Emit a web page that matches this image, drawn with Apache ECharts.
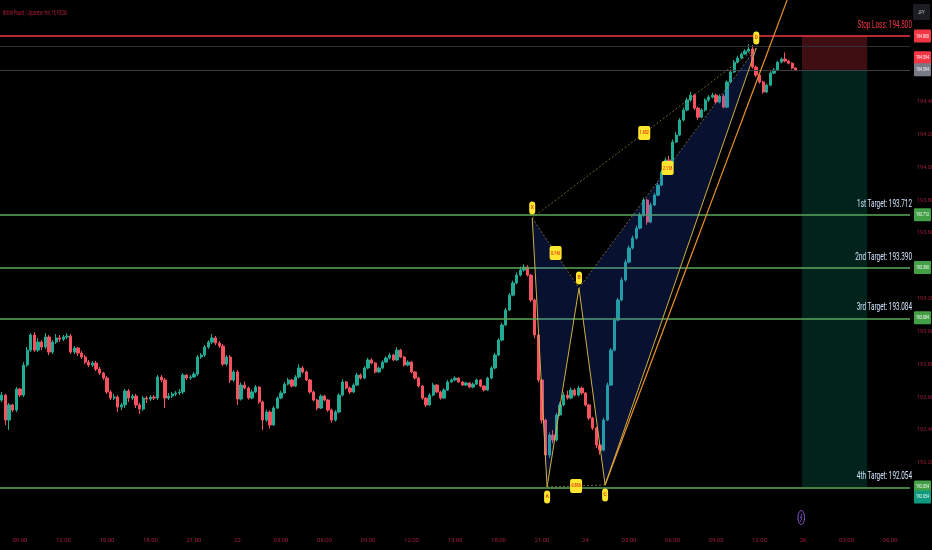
<!DOCTYPE html>
<html><head><meta charset="utf-8">
<script src="https://cdn.jsdelivr.net/npm/echarts@6/dist/echarts.min.js"></script>
<style>html,body{margin:0;padding:0;background:#000;}#c{width:932px;height:550px;}</style>
</head><body><div id="c"></div>
<script>
const chartTitle = 'British Pound / Japanese Yen, 15, FXCM';
const tickLabels = ['09:00','12:00','15:00','18:00','21:00','22','03:00','06:00','09:00','12:00','15:00','18:00','21:00','24','03:00','06:00','09:00','12:00','26','03:00','06:00'];
const firstOpen = 192.583;
const closes = [
192.613,192.461,192.553,192.522,192.650,192.613,192.796,192.887,192.979,192.887,
192.936,192.906,192.967,192.875,192.936,192.961,192.954,192.967,192.973,192.875,
192.900,192.869,192.845,192.814,192.796,192.808,192.772,192.747,192.717,192.632,
192.595,192.601,192.540,192.553,192.638,192.595,192.607,192.553,192.528,192.595,
192.589,192.601,192.595,192.723,192.705,192.595,192.607,192.620,192.626,192.632,
192.735,192.717,192.723,192.741,192.845,192.857,192.906,192.936,192.961,192.930,
192.912,192.802,192.845,192.705,192.754,192.589,192.674,192.656,192.595,192.632,
192.662,192.571,192.461,192.510,192.431,192.534,192.595,192.626,192.680,192.705,
192.668,192.723,192.778,192.754,192.705,192.632,192.583,192.534,192.607,192.583,
192.522,192.461,192.510,192.613,192.693,192.656,192.632,192.674,192.735,192.717,
192.778,192.827,192.808,192.754,192.778,192.814,192.839,192.857,192.827,192.887,
192.845,192.796,192.814,192.754,192.717,192.668,192.595,192.553,192.613,192.674,
192.632,192.595,192.644,192.693,192.705,192.717,192.693,192.674,192.687,192.662,
192.680,192.705,192.668,192.644,192.717,192.778,192.857,192.948,193.040,193.131,
193.222,193.296,193.344,193.375,193.393,193.344,193.192,192.979,192.705,192.461,
192.248,192.370,192.339,192.492,192.553,192.613,192.595,192.644,192.613,192.656,
192.626,192.553,192.473,192.412,192.309,192.278,192.461,192.674,192.887,193.070,
193.192,193.314,193.423,193.509,193.570,193.630,193.710,193.801,193.667,193.771,
193.831,193.892,193.972,194.045,194.026,194.154,194.197,194.288,194.349,194.410,
194.440,194.361,194.306,194.349,194.410,194.428,194.440,194.398,194.434,194.367,
194.520,194.581,194.641,194.666,194.690,194.708,194.721,194.611,194.562,194.520,
194.459,194.501,194.574,194.593,194.641,194.660,194.648,194.635,194.605,194.593];
const highs = [
192.632,192.620,192.565,192.559,192.662,192.656,192.814,192.906,192.991,192.997,
192.961,192.948,192.991,192.979,192.948,192.985,192.979,192.979,192.991,192.985,
192.912,192.906,192.881,192.857,192.827,192.821,192.821,192.784,192.754,192.729,
192.644,192.620,192.613,192.565,192.650,192.650,192.620,192.620,192.565,192.607,
192.607,192.613,192.613,192.735,192.735,192.717,192.626,192.632,192.638,192.650,
192.747,192.741,192.735,192.754,192.857,192.869,192.918,192.948,192.985,192.973,
192.942,192.924,192.857,192.857,192.766,192.766,192.690,192.695,192.665,192.645,
192.675,192.668,192.580,192.525,192.520,192.545,192.605,192.640,192.692,192.718,
192.712,192.735,192.800,192.790,192.762,192.712,192.640,192.590,192.618,192.615,
192.590,192.530,192.522,192.625,192.710,192.700,192.665,192.685,192.748,192.745,
192.790,192.840,192.838,192.815,192.788,192.825,192.850,192.870,192.865,192.905,
192.895,192.852,192.825,192.820,192.760,192.725,192.675,192.600,192.625,192.688,
192.680,192.640,192.655,192.705,192.715,192.728,192.722,192.700,192.695,192.692,
192.690,192.715,192.710,192.672,192.725,192.790,192.870,192.960,193.055,193.145,
193.235,193.310,193.360,193.395,193.410,193.405,193.350,193.200,192.985,192.712,
192.470,192.385,192.400,192.505,192.570,192.630,192.640,192.660,192.655,192.670,
192.665,192.632,192.560,192.480,192.420,192.330,192.475,192.690,192.900,193.085,
193.205,193.330,193.440,193.525,193.585,193.645,193.725,193.815,193.810,193.785,
193.845,193.905,193.985,194.060,194.070,194.170,194.215,194.300,194.365,194.425,
194.460,194.448,194.370,194.360,194.420,194.440,194.455,194.450,194.445,194.445,
194.530,194.595,194.655,194.680,194.700,194.720,194.750,194.745,194.620,194.570,
194.528,194.510,194.585,194.605,194.650,194.670,194.700,194.655,194.640,194.610];
const lows = [
192.571,192.431,192.400,192.510,192.510,192.601,192.601,192.784,192.875,192.875,
192.875,192.887,192.894,192.857,192.863,192.924,192.936,192.942,192.954,192.863,
192.863,192.851,192.833,192.802,192.784,192.784,192.760,192.735,192.705,192.620,
192.583,192.583,192.510,192.522,192.534,192.571,192.583,192.534,192.498,192.516,
192.565,192.577,192.583,192.583,192.693,192.534,192.583,192.595,192.607,192.613,
192.620,192.705,192.705,192.717,192.729,192.833,192.845,192.894,192.924,192.918,
192.900,192.790,192.790,192.687,192.693,192.553,192.580,192.648,192.585,192.588,
192.625,192.560,192.400,192.450,192.410,192.425,192.528,192.588,192.620,192.672,
192.660,192.662,192.715,192.745,192.698,192.622,192.575,192.520,192.528,192.575,
192.512,192.445,192.452,192.502,192.605,192.648,192.620,192.625,192.668,192.708,
192.710,192.770,192.800,192.745,192.748,192.770,192.808,192.830,192.820,192.820,
192.838,192.788,192.788,192.745,192.708,192.660,192.585,192.540,192.548,192.605,
192.625,192.585,192.590,192.638,192.688,192.698,192.688,192.668,192.668,192.655,
192.655,192.675,192.660,192.635,192.638,192.710,192.770,192.850,192.940,193.032,
193.125,193.215,193.288,193.335,193.365,193.335,193.180,192.960,192.690,192.440,
192.205,192.230,192.320,192.330,192.485,192.545,192.585,192.588,192.605,192.605,
192.615,192.545,192.460,192.400,192.290,192.250,192.270,192.455,192.668,192.880,
193.062,193.185,193.305,193.415,193.500,193.560,193.622,193.700,193.650,193.660,
193.765,193.825,193.885,193.965,194.015,194.020,194.148,194.190,194.280,194.340,
194.400,194.350,194.290,194.298,194.340,194.400,194.420,194.390,194.390,194.360,
194.360,194.512,194.575,194.635,194.660,194.685,194.700,194.600,194.550,194.510,
194.450,194.452,194.495,194.568,194.588,194.635,194.640,194.628,194.598,194.588];

const slotCount = 251;
const levelPrices = [194.800, 193.712, 193.390, 193.084, 192.054];
const levelTexts = ['Stop Loss: 194.800', '1st Target: 193.712', '2nd Target: 193.390', '3rd Target: 193.084', '4th Target: 192.054'];
const faintPrices = [194.739, 194.594];
const patternNames = ['X', 'A', 'B', 'C', 'D'];
const patternIdx = [146.3, 150.4, 159.2, 166.4, 208.1];
const patternPrice = [193.692, 192.054, 193.265, 192.066, 194.727];
const ratioTexts = ['0.746', '0.886', '1.652', '2.118'];   // XB, AC, XD, BD
const trendIdx = [166.4, 216.6];
const trendPrice = [192.066, 195.019];
const posIdx = [220.7, 238.7];
const posPrices = [194.800, 194.594, 192.054];   // stop, entry, target
const tagPrices = [194.800, 194.594, 194.594, 193.712, 193.390, 193.084, 192.054, 192.054];
const tagTexts  = ['194.800', '194.594', '194.594', '193.712', '193.390', '193.084', '192.054', '192.054'];
const eventIdx = 220.5;

const slots = [];
for (let k = 0; k < slotCount; k++) slots.push('k' + k);
const candleData = closes.map((c, k) => [k === 0 ? firstOpen : closes[k - 1], c, lows[k], highs[k]]);

const RED = '#f23645', GREEN = '#5aa85a', AXIS = '#a11f3e';
const tagColors = [RED, RED, '#787b86', '#43a047', '#43a047', '#43a047', '#43a047', '#0e9a7e'];
const tagShift = [0, -12, 0, 0, 0, 0, 0, 10];
const levelColors = ['#f23645', '#d4e6ff', '#d4e6ff', '#d4e6ff', '#d4e6ff'];
const TXT = '11px Roboto';

function renderZones(params, api) {
  const a = api.coord([posIdx[0], posPrices[0]]);
  const b = api.coord([posIdx[1], posPrices[1]]);
  const c = api.coord([posIdx[1], posPrices[2]]);
  return { type: 'group', children: [
    { type: 'rect', shape: { x: a[0], y: a[1], width: b[0] - a[0], height: b[1] - a[1] }, style: { fill: 'rgba(242,54,69,0.26)' } },
    { type: 'rect', shape: { x: a[0], y: b[1], width: b[0] - a[0], height: c[1] - b[1] }, style: { fill: 'rgba(8,153,129,0.22)' } }
  ] };
}

function renderPattern(params, api) {
  const P = patternIdx.map((k, i) => api.coord([k, patternPrice[i]]));
  const [X, A, B, C, D] = P;
  const fill = 'rgba(41,98,255,0.19)';
  const gold = '#cfae45';
  const thin = 'rgba(190,165,90,0.75)';
  const ch = [];
  ch.push({ type: 'polygon', shape: { points: [X, A, B] }, style: { fill: fill } });
  ch.push({ type: 'polygon', shape: { points: [B, C, D] }, style: { fill: fill } });
  const t0 = api.coord([trendIdx[0], trendPrice[0]]), t1 = api.coord([trendIdx[1], trendPrice[1]]);
  ch.push({ type: 'line', shape: { x1: t0[0], y1: t0[1], x2: t1[0], y2: t1[1] }, style: { stroke: '#e8912e', lineWidth: 1.2 } });
  [[X, B], [B, D], [X, D], [A, C]].forEach(([p, q]) => ch.push({ type: 'line', shape: { x1: p[0], y1: p[1], x2: q[0], y2: q[1] }, style: { stroke: thin, lineWidth: 0.8, lineDash: [2, 2] } }));
  ch.push({ type: 'polyline', shape: { points: [X, A, B, C, D] }, style: { stroke: gold, lineWidth: 1, fill: 'none' } });
  const mids = [[X, B], [A, C], [X, D], [B, D]];
  mids.forEach(([p, q], i) => {
    const mx = (p[0] + q[0]) / 2, my = (p[1] + q[1]) / 2;
    ch.push({ type: 'rect', shape: { x: mx - 6, y: my - 7, width: 12, height: 14, r: 2 }, style: { fill: '#ffe62e' } });
    ch.push({ type: 'text', x: mx, y: my, scaleX: 0.6, style: { text: ratioTexts[i], fill: '#e2471a', font: 'bold 6px Roboto', align: 'center', verticalAlign: 'middle', textAlign: 'center', textVerticalAlign: 'middle' } });
  });
  const dir = [-1, 1, -1, 1, -1];
  P.forEach((p, i) => {
    const cy = p[1] + dir[i] * 10;
    ch.push({ type: 'rect', shape: { x: p[0] - 3, y: cy - 6.5, width: 6, height: 13, r: 3 }, style: { fill: '#ffe62e' } });
    ch.push({ type: 'text', x: p[0], y: cy, style: { text: patternNames[i], fill: '#d2561b', font: 'bold 5px Roboto', align: 'center', verticalAlign: 'middle', textAlign: 'center', textVerticalAlign: 'middle' } });
  });
  return { type: 'group', children: ch };
}

function renderTexts(params, api) {
  const ch = [];
  levelPrices.forEach((p, i) => {
    const pt = api.coord([slotCount - 0.5, p]);
    ch.push({ type: 'text', x: pt[0] + 2, y: pt[1] - 5, scaleX: 0.58, style: { text: levelTexts[i], fill: levelColors[i], font: TXT, align: 'right', verticalAlign: 'bottom', textAlign: 'right', textVerticalAlign: 'bottom' } });
  });
  tagPrices.forEach((p, i) => {
    const pt = api.coord([slotCount - 0.5, p]);
    const cy = pt[1] + tagShift[i];
    ch.push({ type: 'rect', shape: { x: pt[0] + 4, y: cy - 6.5, width: 17, height: 13, r: 1 }, style: { fill: tagColors[i] } });
    ch.push({ type: 'text', x: pt[0] + 12.5, y: cy, scaleX: 0.6, style: { text: tagTexts[i], fill: '#ffffff', font: '6px Roboto', align: 'center', verticalAlign: 'middle', textAlign: 'center', textVerticalAlign: 'middle' } });
  });
  const ev = api.coord([eventIdx, 191.8]);
  ch.push({ type: 'ellipse', shape: { cx: ev[0], cy: ev[1] - 11, rx: 3.2, ry: 7 }, style: { fill: 'none', stroke: '#8e5bd6', lineWidth: 1 } });
  ch.push({ type: 'polyline', shape: { points: [[ev[0] + 0.8, ev[1] - 15], [ev[0] - 0.8, ev[1] - 11], [ev[0] + 0.8, ev[1] - 11], [ev[0] - 0.8, ev[1] - 7]] }, style: { stroke: '#8e5bd6', lineWidth: 0.8, fill: 'none' } });
  return { type: 'group', children: ch };
}

const hiddenY = [195.0, 194.8, 194.6, 193.4, 192.0, 191.8];

const chart = echarts.init(document.getElementById('c'), null, { renderer: 'canvas' });
chart.setOption({
  backgroundColor: '#000000',
  animation: false,
  grid: { left: 0, right: 22, top: 3.2, bottom: 21.4, containLabel: false, outerBoundsMode: 'none' },
  xAxis: [
    { type: 'category', data: slots, boundaryGap: true, axisLine: { show: false }, axisTick: { show: false }, splitLine: { show: false },
      axisLabel: { color: AXIS, fontSize: 6, fontFamily: 'Liberation Sans Narrow, Roboto', margin: 9, hideOverlap: false,
        interval: (i) => i >= 5 && (i - 5) % 12 === 0,
        formatter: (v) => { const k = parseInt(String(v).slice(1), 10); const j = (k - 5) / 12; return tickLabels[j] || ''; } } },
    { type: 'value', min: -0.5, max: slotCount - 0.5, show: false }
  ],
  yAxis: { type: 'value', position: 'right', min: 191.8, max: 195.0, interval: 0.2, scale: true,
    axisLine: { show: false }, axisTick: { show: false }, splitLine: { show: false },
    axisLabel: { color: AXIS, fontSize: 5.5, fontFamily: 'Liberation Sans Narrow, Roboto', margin: 7,
      formatter: (v) => hiddenY.some(h => Math.abs(h - v) < 0.001) ? '' : v.toFixed(3) } },
  graphic: [
    { type: 'text', left: 3, top: 10, scaleX: 0.55, style: { text: chartTitle, fill: '#b81d3d', font: '6.5px Roboto' } },
    { type: 'group', right: 2, top: 4, children: [
      { type: 'rect', shape: { x: 0, y: 0, width: 17, height: 16, r: 1 }, style: { fill: '#1b1d22' } },
      { type: 'text', x: 8.5, y: 8, scaleX: 0.6, style: { text: 'JPY', fill: '#c8c8c8', font: '6px Roboto', align: 'center', verticalAlign: 'middle', textAlign: 'center', textVerticalAlign: 'middle' } }
    ] }
  ],
  series: [
    { type: 'custom', name: 'position', xAxisIndex: 1, yAxisIndex: 0, z: 1, silent: true, data: [[0, 193]], renderItem: renderZones },
    { type: 'candlestick', name: 'GBPJPY', xAxisIndex: 0, yAxisIndex: 0, z: 3, barWidth: 2.8, data: candleData,
      itemStyle: { color: '#22ab94', color0: '#f7525f', borderColor: '#22ab94', borderColor0: '#f7525f', borderWidth: 1 },
      markLine: { silent: true, symbol: ['none', 'none'], label: { show: false }, animation: false,
        data: [
          { yAxis: faintPrices[0], lineStyle: { color: '#2e2f33', width: 1, type: 'solid' } },
          { yAxis: faintPrices[1], lineStyle: { color: '#3d3e44', width: 1, type: 'solid' } },
          { yAxis: levelPrices[0], lineStyle: { color: RED, width: 1.5, type: 'solid' } },
          { yAxis: levelPrices[1], lineStyle: { color: GREEN, width: 1.5, type: 'solid' } },
          { yAxis: levelPrices[2], lineStyle: { color: GREEN, width: 1.5, type: 'solid' } },
          { yAxis: levelPrices[3], lineStyle: { color: GREEN, width: 1.5, type: 'solid' } },
          { yAxis: levelPrices[4], lineStyle: { color: GREEN, width: 1.5, type: 'solid' } }
        ] } },
    { type: 'custom', name: 'pattern', xAxisIndex: 1, yAxisIndex: 0, z: 5, silent: true, data: [[0, 193]], renderItem: renderPattern },
    { type: 'custom', name: 'labels', xAxisIndex: 1, yAxisIndex: 0, z: 6, silent: true, clip: false, data: [[0, 193]], renderItem: renderTexts }
  ]
});
</script></body></html>
